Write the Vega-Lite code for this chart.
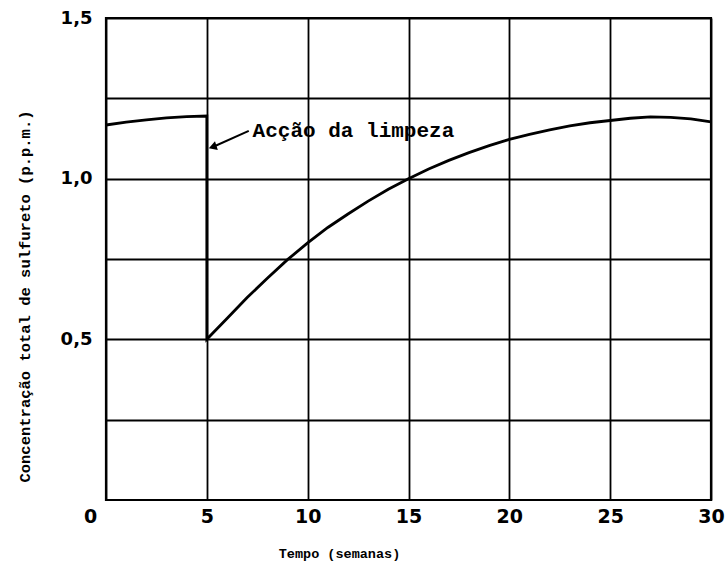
{
  "$schema": "https://vega.github.io/schema/vega-lite/v6.json",
  "width": 605,
  "height": 482,
  "autosize": "none",
  "padding": {"left": 106, "top": 18, "right": 14, "bottom": 67},
  "background": "white",
  "config": {
    "view": {"stroke": "black", "strokeWidth": 2.2},
    "axis": {"domain": false, "ticks": false, "gridColor": "black", "gridOpacity": 1, "gridWidth": 1.8, "labelColor": "black", "titleColor": "black"}
  },
  "datasets": {
    "curve": [
      {"i": 0, "t": 0, "c": 1.167}, {"i": 1, "t": 1, "c": 1.176}, {"i": 2, "t": 2, "c": 1.183},
      {"i": 3, "t": 3, "c": 1.189}, {"i": 4, "t": 4, "c": 1.193}, {"i": 5, "t": 5, "c": 1.195},
      {"i": 6, "t": 5, "c": 0.5}, {"i": 7, "t": 6, "c": 0.565}, {"i": 8, "t": 7, "c": 0.63},
      {"i": 9, "t": 8, "c": 0.69}, {"i": 10, "t": 9, "c": 0.748}, {"i": 11, "t": 10, "c": 0.80},
      {"i": 12, "t": 11, "c": 0.848}, {"i": 13, "t": 12, "c": 0.89}, {"i": 14, "t": 13, "c": 0.93},
      {"i": 15, "t": 14, "c": 0.967}, {"i": 16, "t": 15, "c": 1.0}, {"i": 17, "t": 16, "c": 1.03},
      {"i": 18, "t": 17, "c": 1.057}, {"i": 19, "t": 18, "c": 1.081}, {"i": 20, "t": 19, "c": 1.103},
      {"i": 21, "t": 20, "c": 1.122}, {"i": 22, "t": 21, "c": 1.138}, {"i": 23, "t": 22, "c": 1.152},
      {"i": 24, "t": 23, "c": 1.164}, {"i": 25, "t": 24, "c": 1.174}, {"i": 26, "t": 25, "c": 1.181},
      {"i": 27, "t": 26, "c": 1.188}, {"i": 28, "t": 27, "c": 1.192}, {"i": 29, "t": 28, "c": 1.191},
      {"i": 30, "t": 29, "c": 1.186}, {"i": 31, "t": 30, "c": 1.177}
    ],
    "note": [
      {"label": "Acção da limpeza", "t": 7.27, "c": 1.129, "t0": 7.08, "c0": 1.149, "t1": 5.35, "c1": 1.1, "angle": 252}
    ]
  },
  "layer": [
    {
      "data": {"name": "curve"},
      "mark": {"type": "line", "color": "black", "strokeWidth": 2.8, "strokeJoin": "miter"},
      "encoding": {
        "x": {"field": "t", "type": "quantitative", "scale": {"domain": [0, 30], "nice": false},
          "axis": {"title": "Tempo (semanas)", "values": [0, 5, 10, 15, 20, 25, 30], "grid": true,
            "labelFont": "DejaVu Sans", "labelFontWeight": "bold", "labelFontSize": 19, "labelPadding": 7,
            "labelFlush": false,
            "labelOffset": {"condition": {"test": "datum.value == 0", "value": -16}, "value": 0},
            "titleFont": "Liberation Mono", "titleFontWeight": "bold", "titleFontSize": 13.5,
            "titleX": 233, "titleY": 53, "titleBaseline": "middle"}},
        "y": {"field": "c", "type": "quantitative", "scale": {"domain": [0, 1.5], "nice": false},
          "axis": {"title": "Concentração total de sulfureto (p.p.m.)", "values": [0.25, 0.5, 0.75, 1.0, 1.25, 1.5], "grid": true,
            "labelFlush": false,
            "labelExpr": "datum.value == 0.5 ? '0,5' : datum.value == 1 ? '1,0' : datum.value == 1.5 ? '1,5' : ''",
            "labelFont": "DejaVu Sans", "labelFontWeight": "bold", "labelFontSize": 18, "labelPadding": 14,
            "titleFont": "Liberation Mono", "titleFontWeight": "bold", "titleFontSize": 15.5,
            "titleX": -82, "titleY": 278, "titleBaseline": "middle"}},
        "order": {"field": "i", "type": "quantitative"}
      }
    },
    {
      "data": {"name": "note"},
      "mark": {"type": "rule", "color": "black", "strokeWidth": 2},
      "encoding": {
        "x": {"field": "t0", "type": "quantitative"},
        "y": {"field": "c0", "type": "quantitative"},
        "x2": {"field": "t1"},
        "y2": {"field": "c1"}
      }
    },
    {
      "data": {"name": "note"},
      "mark": {"type": "point", "shape": "triangle", "filled": true, "color": "black", "opacity": 1, "size": 85},
      "encoding": {
        "x": {"field": "t1", "type": "quantitative"},
        "y": {"field": "c1", "type": "quantitative"},
        "angle": {"field": "angle", "type": "quantitative", "scale": null}
      }
    },
    {
      "data": {"name": "note"},
      "mark": {"type": "text", "font": "Liberation Mono", "fontWeight": "bold", "fontSize": 21, "align": "left", "baseline": "alphabetic", "color": "black"},
      "encoding": {
        "x": {"field": "t", "type": "quantitative"},
        "y": {"field": "c", "type": "quantitative"},
        "text": {"field": "label"}
      }
    }
  ]
}
